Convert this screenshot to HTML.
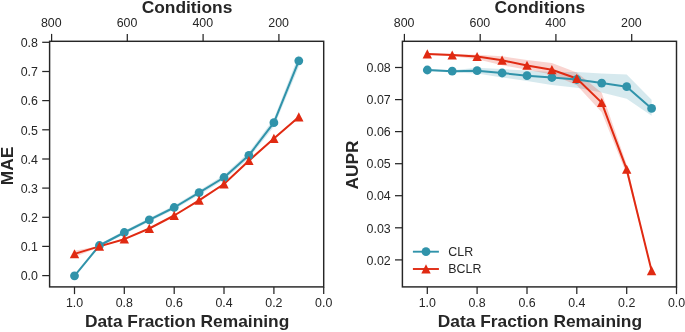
<!DOCTYPE html>
<html><head><meta charset="utf-8"><title>Chart</title>
<style>html,body{margin:0;padding:0;background:#fff;}body{width:685px;height:332px;overflow:hidden;font-family:"Liberation Sans",sans-serif;}svg{display:block;will-change:transform;}</style>
</head><body>
<svg width="685" height="332" viewBox="0 0 685 332">
<rect width="685" height="332" fill="#fff"/>
<polygon points="74.5,275.5 99.4,244.0 124.3,230.7 149.3,218.1 174.2,205.5 199.1,190.5 224.0,175.0 248.9,152.3 273.9,118.7 298.8,54.8 298.8,66.8 273.9,126.7 248.9,158.3 224.0,180.0 199.1,194.9 174.2,209.5 149.3,221.7 124.3,234.3 99.4,247.0 74.5,276.1" fill="#3093AA" fill-opacity="0.2"/>
<polygon points="74.5,250.7 99.4,245.9 124.3,238.6 149.3,227.9 174.2,214.9 199.1,199.6 224.0,183.3 248.9,159.9 273.9,137.7 298.8,116.2 298.8,117.8 273.9,139.3 248.9,161.5 224.0,184.7 199.1,201.0 174.2,216.1 149.3,229.1 124.3,239.8 99.4,246.9 74.5,257.1" fill="#E02A12" fill-opacity="0.2"/>
<polyline points="74.5,275.8 99.4,245.5 124.3,232.5 149.3,219.9 174.2,207.5 199.1,192.7 224.0,177.5 248.9,155.3 273.9,122.7 298.8,60.8" fill="none" stroke="#3093AA" stroke-width="2.0" stroke-linejoin="round" stroke-linecap="round"/>
<polyline points="74.5,253.9 99.4,246.4 124.3,239.2 149.3,228.5 174.2,215.5 199.1,200.3 224.0,184.0 248.9,160.7 273.9,138.5 298.8,117.0" fill="none" stroke="#E02A12" stroke-width="2.0" stroke-linejoin="round" stroke-linecap="round"/>
<circle cx="74.5" cy="275.8" r="4.4" fill="#3093AA"/>
<circle cx="99.4" cy="245.5" r="4.4" fill="#3093AA"/>
<circle cx="124.3" cy="232.5" r="4.4" fill="#3093AA"/>
<circle cx="149.3" cy="219.9" r="4.4" fill="#3093AA"/>
<circle cx="174.2" cy="207.5" r="4.4" fill="#3093AA"/>
<circle cx="199.1" cy="192.7" r="4.4" fill="#3093AA"/>
<circle cx="224.0" cy="177.5" r="4.4" fill="#3093AA"/>
<circle cx="248.9" cy="155.3" r="4.4" fill="#3093AA"/>
<circle cx="273.9" cy="122.7" r="4.4" fill="#3093AA"/>
<circle cx="298.8" cy="60.8" r="4.4" fill="#3093AA"/>
<polygon points="74.5,249.2 69.8,258.3 79.2,258.3" fill="#E02A12"/>
<polygon points="99.4,241.7 94.7,250.8 104.1,250.8" fill="#E02A12"/>
<polygon points="124.3,234.5 119.6,243.6 129.0,243.6" fill="#E02A12"/>
<polygon points="149.3,223.8 144.6,232.9 154.0,232.9" fill="#E02A12"/>
<polygon points="174.2,210.8 169.5,219.9 178.9,219.9" fill="#E02A12"/>
<polygon points="199.1,195.6 194.4,204.7 203.8,204.7" fill="#E02A12"/>
<polygon points="224.0,179.3 219.3,188.4 228.7,188.4" fill="#E02A12"/>
<polygon points="248.9,156.0 244.2,165.1 253.6,165.1" fill="#E02A12"/>
<polygon points="273.9,133.8 269.2,142.9 278.6,142.9" fill="#E02A12"/>
<polygon points="298.8,112.3 294.1,121.4 303.5,121.4" fill="#E02A12"/>
<rect x="49.6" y="41.3" width="274.1" height="245.6" fill="none" stroke="#262626" stroke-width="1.45"/>
<line x1="74.5" y1="286.9" x2="74.5" y2="294.09999999999997" stroke="#262626" stroke-width="1.25"/>
<text x="74.5" y="307.45" text-anchor="middle" font-size="12.4" font-family="Liberation Sans, sans-serif" fill="#262626">1.0</text>
<line x1="124.3" y1="286.9" x2="124.3" y2="294.09999999999997" stroke="#262626" stroke-width="1.25"/>
<text x="124.3" y="307.45" text-anchor="middle" font-size="12.4" font-family="Liberation Sans, sans-serif" fill="#262626">0.8</text>
<line x1="174.2" y1="286.9" x2="174.2" y2="294.09999999999997" stroke="#262626" stroke-width="1.25"/>
<text x="174.2" y="307.45" text-anchor="middle" font-size="12.4" font-family="Liberation Sans, sans-serif" fill="#262626">0.6</text>
<line x1="224.0" y1="286.9" x2="224.0" y2="294.09999999999997" stroke="#262626" stroke-width="1.25"/>
<text x="224.0" y="307.45" text-anchor="middle" font-size="12.4" font-family="Liberation Sans, sans-serif" fill="#262626">0.4</text>
<line x1="273.9" y1="286.9" x2="273.9" y2="294.09999999999997" stroke="#262626" stroke-width="1.25"/>
<text x="273.9" y="307.45" text-anchor="middle" font-size="12.4" font-family="Liberation Sans, sans-serif" fill="#262626">0.2</text>
<line x1="323.7" y1="286.9" x2="323.7" y2="294.09999999999997" stroke="#262626" stroke-width="1.25"/>
<text x="323.7" y="307.45" text-anchor="middle" font-size="12.4" font-family="Liberation Sans, sans-serif" fill="#262626">0.0</text>
<line x1="51.6" y1="41.3" x2="51.6" y2="33.9" stroke="#262626" stroke-width="1.25"/>
<text x="51.3" y="27.4" text-anchor="middle" font-size="12.4" font-family="Liberation Sans, sans-serif" fill="#262626">800</text>
<line x1="127.3" y1="41.3" x2="127.3" y2="33.9" stroke="#262626" stroke-width="1.25"/>
<text x="127.0" y="27.4" text-anchor="middle" font-size="12.4" font-family="Liberation Sans, sans-serif" fill="#262626">600</text>
<line x1="203.1" y1="41.3" x2="203.1" y2="33.9" stroke="#262626" stroke-width="1.25"/>
<text x="202.8" y="27.4" text-anchor="middle" font-size="12.4" font-family="Liberation Sans, sans-serif" fill="#262626">400</text>
<line x1="278.9" y1="41.3" x2="278.9" y2="33.9" stroke="#262626" stroke-width="1.25"/>
<text x="278.6" y="27.4" text-anchor="middle" font-size="12.4" font-family="Liberation Sans, sans-serif" fill="#262626">200</text>
<line x1="49.6" y1="275.6" x2="42.2" y2="275.6" stroke="#262626" stroke-width="1.25"/>
<text x="37.9" y="280.2" text-anchor="end" font-size="12.4" font-family="Liberation Sans, sans-serif" fill="#262626">0.0</text>
<line x1="49.6" y1="246.4" x2="42.2" y2="246.4" stroke="#262626" stroke-width="1.25"/>
<text x="37.9" y="251.1" text-anchor="end" font-size="12.4" font-family="Liberation Sans, sans-serif" fill="#262626">0.1</text>
<line x1="49.6" y1="217.3" x2="42.2" y2="217.3" stroke="#262626" stroke-width="1.25"/>
<text x="37.9" y="221.9" text-anchor="end" font-size="12.4" font-family="Liberation Sans, sans-serif" fill="#262626">0.2</text>
<line x1="49.6" y1="188.1" x2="42.2" y2="188.1" stroke="#262626" stroke-width="1.25"/>
<text x="37.9" y="192.8" text-anchor="end" font-size="12.4" font-family="Liberation Sans, sans-serif" fill="#262626">0.3</text>
<line x1="49.6" y1="159.0" x2="42.2" y2="159.0" stroke="#262626" stroke-width="1.25"/>
<text x="37.9" y="163.6" text-anchor="end" font-size="12.4" font-family="Liberation Sans, sans-serif" fill="#262626">0.4</text>
<line x1="49.6" y1="129.8" x2="42.2" y2="129.8" stroke="#262626" stroke-width="1.25"/>
<text x="37.9" y="134.5" text-anchor="end" font-size="12.4" font-family="Liberation Sans, sans-serif" fill="#262626">0.5</text>
<line x1="49.6" y1="100.6" x2="42.2" y2="100.6" stroke="#262626" stroke-width="1.25"/>
<text x="37.9" y="105.3" text-anchor="end" font-size="12.4" font-family="Liberation Sans, sans-serif" fill="#262626">0.6</text>
<line x1="49.6" y1="71.5" x2="42.2" y2="71.5" stroke="#262626" stroke-width="1.25"/>
<text x="37.9" y="76.1" text-anchor="end" font-size="12.4" font-family="Liberation Sans, sans-serif" fill="#262626">0.7</text>
<line x1="49.6" y1="42.3" x2="42.2" y2="42.3" stroke="#262626" stroke-width="1.25"/>
<text x="37.9" y="47.0" text-anchor="end" font-size="12.4" font-family="Liberation Sans, sans-serif" fill="#262626">0.8</text>
<text x="187.0" y="12.5" text-anchor="middle" font-size="17.35" font-weight="bold" font-family="Liberation Sans, sans-serif" fill="#262626">Conditions</text>
<text x="187.1" y="327.0" text-anchor="middle" font-size="17.35" font-weight="bold" font-family="Liberation Sans, sans-serif" fill="#262626">Data Fraction Remaining</text>
<text transform="translate(13.0,166.0) rotate(-90)" text-anchor="middle" font-size="17.35" font-weight="bold" font-family="Liberation Sans, sans-serif" fill="#262626">MAE</text>
<polygon points="427.3,69.2 452.2,70.2 477.1,67.8 502.1,69.0 527.0,70.6 551.9,72.1 576.8,71.9 601.7,73.5 626.7,74.4 651.6,99.7 651.6,115.7 626.7,98.8 601.7,92.5 576.8,87.7 551.9,84.9 527.0,81.1 502.1,77.4 477.1,73.6 452.2,72.4 427.3,71.0" fill="#3093AA" fill-opacity="0.2"/>
<polygon points="427.3,53.2 452.2,54.0 477.1,54.8 502.1,56.3 527.0,60.0 551.9,63.0 576.8,72.5 601.7,92.7 626.7,164.5 651.6,270.3 651.6,271.3 626.7,174.5 601.7,112.3 576.8,85.2 551.9,74.4 527.0,69.8 502.1,65.3 477.1,59.3 452.2,56.3 427.3,54.8" fill="#E02A12" fill-opacity="0.2"/>
<polyline points="427.3,70.0 452.2,71.2 477.1,70.7 502.1,73.0 527.0,75.7 551.9,77.5 576.8,79.5 601.7,83.1 626.7,86.7 651.6,108.4" fill="none" stroke="#3093AA" stroke-width="2.0" stroke-linejoin="round" stroke-linecap="round"/>
<polyline points="427.3,54.0 452.2,55.1 477.1,56.6 502.1,60.3 527.0,65.4 551.9,69.8 576.8,78.5 601.7,102.6 626.7,169.4 651.6,270.8" fill="none" stroke="#E02A12" stroke-width="2.0" stroke-linejoin="round" stroke-linecap="round"/>
<circle cx="427.3" cy="70.0" r="4.4" fill="#3093AA"/>
<circle cx="452.2" cy="71.2" r="4.4" fill="#3093AA"/>
<circle cx="477.1" cy="70.7" r="4.4" fill="#3093AA"/>
<circle cx="502.1" cy="73.0" r="4.4" fill="#3093AA"/>
<circle cx="527.0" cy="75.7" r="4.4" fill="#3093AA"/>
<circle cx="551.9" cy="77.5" r="4.4" fill="#3093AA"/>
<circle cx="576.8" cy="79.5" r="4.4" fill="#3093AA"/>
<circle cx="601.7" cy="83.1" r="4.4" fill="#3093AA"/>
<circle cx="626.7" cy="86.7" r="4.4" fill="#3093AA"/>
<circle cx="651.6" cy="108.4" r="4.4" fill="#3093AA"/>
<polygon points="427.3,49.3 422.6,58.4 432.0,58.4" fill="#E02A12"/>
<polygon points="452.2,50.4 447.5,59.5 456.9,59.5" fill="#E02A12"/>
<polygon points="477.1,51.9 472.4,61.0 481.8,61.0" fill="#E02A12"/>
<polygon points="502.1,55.6 497.4,64.7 506.8,64.7" fill="#E02A12"/>
<polygon points="527.0,60.7 522.3,69.8 531.7,69.8" fill="#E02A12"/>
<polygon points="551.9,65.1 547.2,74.2 556.6,74.2" fill="#E02A12"/>
<polygon points="576.8,73.8 572.1,82.9 581.5,82.9" fill="#E02A12"/>
<polygon points="601.7,97.9 597.0,107.0 606.4,107.0" fill="#E02A12"/>
<polygon points="626.7,164.7 622.0,173.8 631.4,173.8" fill="#E02A12"/>
<polygon points="651.6,266.1 646.9,275.2 656.3,275.2" fill="#E02A12"/>
<rect x="402.4" y="41.3" width="274.1" height="245.6" fill="none" stroke="#262626" stroke-width="1.45"/>
<line x1="427.3" y1="286.9" x2="427.3" y2="294.09999999999997" stroke="#262626" stroke-width="1.25"/>
<text x="427.3" y="307.45" text-anchor="middle" font-size="12.4" font-family="Liberation Sans, sans-serif" fill="#262626">1.0</text>
<line x1="477.1" y1="286.9" x2="477.1" y2="294.09999999999997" stroke="#262626" stroke-width="1.25"/>
<text x="477.1" y="307.45" text-anchor="middle" font-size="12.4" font-family="Liberation Sans, sans-serif" fill="#262626">0.8</text>
<line x1="527.0" y1="286.9" x2="527.0" y2="294.09999999999997" stroke="#262626" stroke-width="1.25"/>
<text x="527.0" y="307.45" text-anchor="middle" font-size="12.4" font-family="Liberation Sans, sans-serif" fill="#262626">0.6</text>
<line x1="576.8" y1="286.9" x2="576.8" y2="294.09999999999997" stroke="#262626" stroke-width="1.25"/>
<text x="576.8" y="307.45" text-anchor="middle" font-size="12.4" font-family="Liberation Sans, sans-serif" fill="#262626">0.4</text>
<line x1="626.7" y1="286.9" x2="626.7" y2="294.09999999999997" stroke="#262626" stroke-width="1.25"/>
<text x="626.7" y="307.45" text-anchor="middle" font-size="12.4" font-family="Liberation Sans, sans-serif" fill="#262626">0.2</text>
<line x1="676.5" y1="286.9" x2="676.5" y2="294.09999999999997" stroke="#262626" stroke-width="1.25"/>
<text x="676.5" y="307.45" text-anchor="middle" font-size="12.4" font-family="Liberation Sans, sans-serif" fill="#262626">0.0</text>
<line x1="404.4" y1="41.3" x2="404.4" y2="33.9" stroke="#262626" stroke-width="1.25"/>
<text x="404.1" y="27.4" text-anchor="middle" font-size="12.4" font-family="Liberation Sans, sans-serif" fill="#262626">800</text>
<line x1="480.2" y1="41.3" x2="480.2" y2="33.9" stroke="#262626" stroke-width="1.25"/>
<text x="479.9" y="27.4" text-anchor="middle" font-size="12.4" font-family="Liberation Sans, sans-serif" fill="#262626">600</text>
<line x1="555.9" y1="41.3" x2="555.9" y2="33.9" stroke="#262626" stroke-width="1.25"/>
<text x="555.6" y="27.4" text-anchor="middle" font-size="12.4" font-family="Liberation Sans, sans-serif" fill="#262626">400</text>
<line x1="631.7" y1="41.3" x2="631.7" y2="33.9" stroke="#262626" stroke-width="1.25"/>
<text x="631.4" y="27.4" text-anchor="middle" font-size="12.4" font-family="Liberation Sans, sans-serif" fill="#262626">200</text>
<line x1="402.40000000000003" y1="259.9" x2="395.00000000000006" y2="259.9" stroke="#262626" stroke-width="1.25"/>
<text x="390.7" y="264.5" text-anchor="end" font-size="12.4" font-family="Liberation Sans, sans-serif" fill="#262626">0.02</text>
<line x1="402.40000000000003" y1="227.8" x2="395.00000000000006" y2="227.8" stroke="#262626" stroke-width="1.25"/>
<text x="390.7" y="232.5" text-anchor="end" font-size="12.4" font-family="Liberation Sans, sans-serif" fill="#262626">0.03</text>
<line x1="402.40000000000003" y1="195.7" x2="395.00000000000006" y2="195.7" stroke="#262626" stroke-width="1.25"/>
<text x="390.7" y="200.4" text-anchor="end" font-size="12.4" font-family="Liberation Sans, sans-serif" fill="#262626">0.04</text>
<line x1="402.40000000000003" y1="163.7" x2="395.00000000000006" y2="163.7" stroke="#262626" stroke-width="1.25"/>
<text x="390.7" y="168.3" text-anchor="end" font-size="12.4" font-family="Liberation Sans, sans-serif" fill="#262626">0.05</text>
<line x1="402.40000000000003" y1="131.6" x2="395.00000000000006" y2="131.6" stroke="#262626" stroke-width="1.25"/>
<text x="390.7" y="136.3" text-anchor="end" font-size="12.4" font-family="Liberation Sans, sans-serif" fill="#262626">0.06</text>
<line x1="402.40000000000003" y1="99.6" x2="395.00000000000006" y2="99.6" stroke="#262626" stroke-width="1.25"/>
<text x="390.7" y="104.2" text-anchor="end" font-size="12.4" font-family="Liberation Sans, sans-serif" fill="#262626">0.07</text>
<line x1="402.40000000000003" y1="67.5" x2="395.00000000000006" y2="67.5" stroke="#262626" stroke-width="1.25"/>
<text x="390.7" y="72.2" text-anchor="end" font-size="12.4" font-family="Liberation Sans, sans-serif" fill="#262626">0.08</text>
<text x="539.8" y="12.5" text-anchor="middle" font-size="17.35" font-weight="bold" font-family="Liberation Sans, sans-serif" fill="#262626">Conditions</text>
<text x="539.9" y="327.0" text-anchor="middle" font-size="17.35" font-weight="bold" font-family="Liberation Sans, sans-serif" fill="#262626">Data Fraction Remaining</text>
<text transform="translate(357.6,165.0) rotate(-90)" text-anchor="middle" font-size="17.35" font-weight="bold" font-family="Liberation Sans, sans-serif" fill="#262626">AUPR</text>
<line x1="412.9" y1="251.7" x2="438.9" y2="251.7" stroke="#3093AA" stroke-width="1.9"/>
<circle cx="426" cy="251.7" r="4.4" fill="#3093AA"/>
<text x="448.3" y="255.8" font-size="12.4" font-family="Liberation Sans, sans-serif" fill="#262626">CLR</text>
<line x1="412.9" y1="269.0" x2="438.9" y2="269.0" stroke="#E02A12" stroke-width="1.9"/>
<polygon points="426,264.3 421.3,273.4 430.7,273.4" fill="#E02A12"/>
<text x="448.3" y="273.1" font-size="12.4" font-family="Liberation Sans, sans-serif" fill="#262626">BCLR</text>
</svg>
</body></html>
